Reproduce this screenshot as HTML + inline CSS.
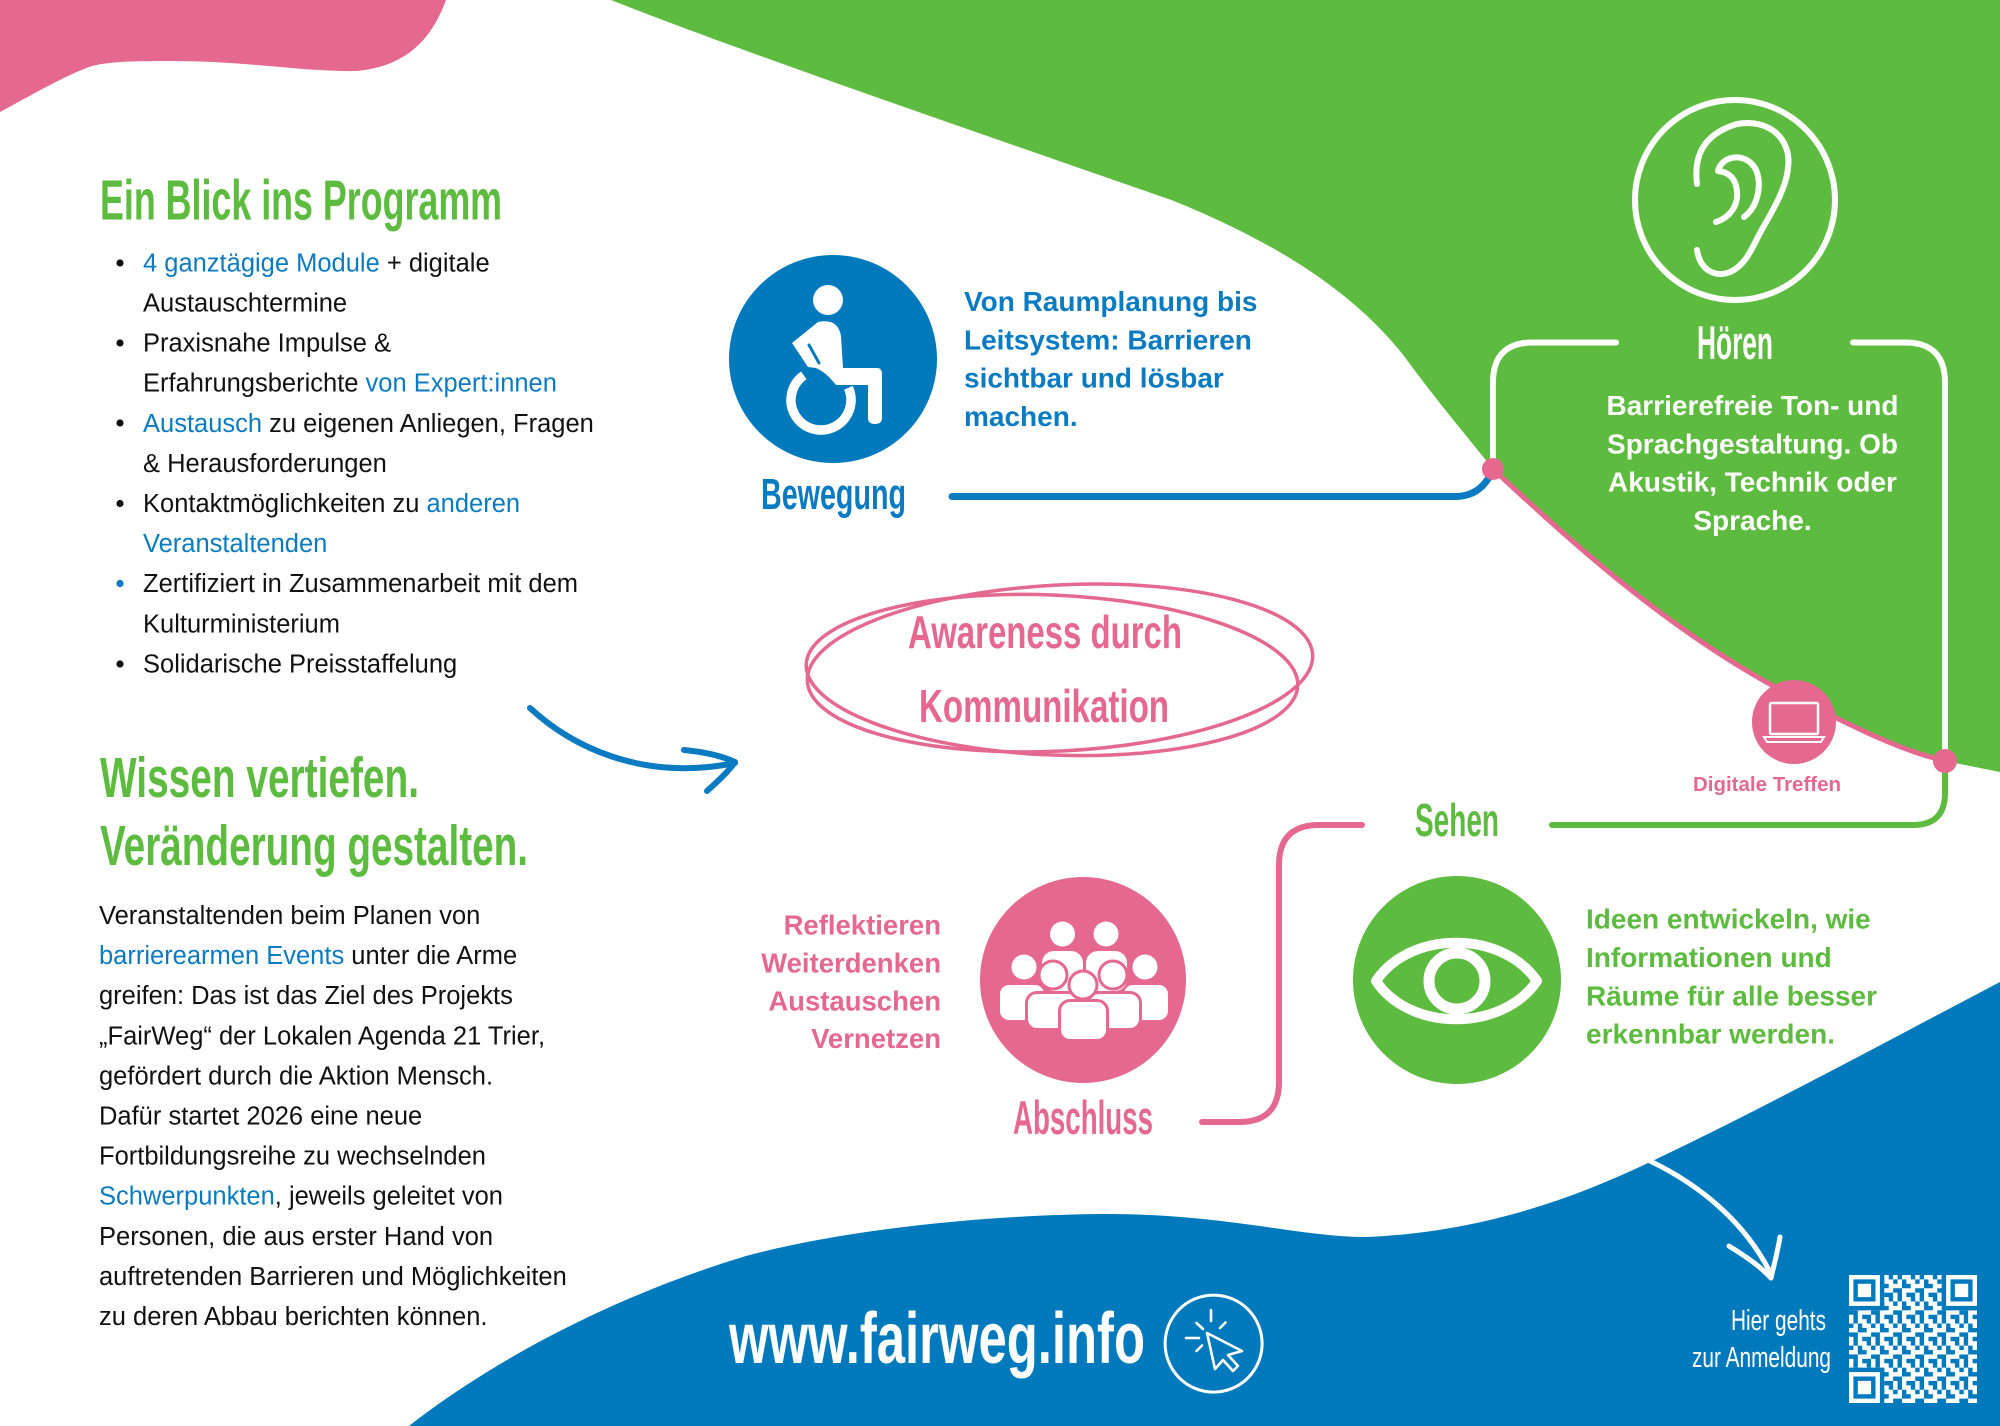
<!DOCTYPE html>
<html>
<head>
<meta charset="utf-8">
<style>
  html,body{margin:0;padding:0;background:#fff;}
  svg{display:block;}
  text{font-family:"Liberation Sans",Arial,sans-serif;}
</style>
</head>
<body>
<svg xmlns="http://www.w3.org/2000/svg" width="2000" height="1426" viewBox="0 0 2000 1426">
  <defs>
    <pattern id="qrp" patternUnits="userSpaceOnUse" x="1849" y="1275" width="22.07" height="22.07">
      <rect x="0" y="0" width="4.41" height="4.41" fill="#fff"/>
      <rect x="8.83" y="0" width="8.83" height="4.41" fill="#fff"/>
      <rect x="4.41" y="4.41" width="4.41" height="4.41" fill="#fff"/>
      <rect x="13.24" y="4.41" width="8.83" height="4.41" fill="#fff"/>
      <rect x="0" y="8.83" width="8.83" height="4.41" fill="#fff"/>
      <rect x="17.66" y="8.83" width="4.41" height="4.41" fill="#fff"/>
      <rect x="8.83" y="13.24" width="13.24" height="4.41" fill="#fff"/>
      <rect x="0" y="17.66" width="4.41" height="4.41" fill="#fff"/>
      <rect x="8.83" y="17.66" width="4.41" height="4.41" fill="#fff"/>
    </pattern>
  </defs>

  <rect width="2000" height="1426" fill="#fff"/>

  <!-- pink blob top-left -->
  <path d="M0,0 H446 C432,38 408,66 357,71 C300,72 250,61 170,61 C125,61 105,62 89,67 C60,78 30,96 0,112 Z" fill="#E4688F"/>

  <!-- green shape top-right -->
  <path d="M611,0 C750,55 1000,140 1174,201 C1290,248 1360,300 1404,356 C1440,405 1470,440 1493,469 C1580,550 1680,640 1800,700 C1860,730 1900,750 1945,761 L2000,772 V0 Z" fill="#5DBB3F"/>

  <!-- blue bottom shape -->
  <path d="M409,1426 C480,1370 600,1300 746,1256 C850,1228 1000,1214 1112,1214 C1230,1215 1300,1237 1367,1237 C1480,1232 1570,1200 1648,1163 C1760,1110 1880,1045 2000,982 V1426 Z" fill="#007ABC"/>

  <!-- ===== LEFT COLUMN ===== -->
  <text x="100" y="219.6" font-size="57" font-weight="bold" fill="#5DBB3F" textLength="402" lengthAdjust="spacingAndGlyphs">Ein Blick ins Programm</text>

  <g font-size="25.5" fill="#111">
    <circle cx="120" cy="263" r="3.6" fill="#111"/>
    <text x="143" y="271.4"><tspan fill="#0B7BC1">4 ganztägige Module</tspan> + digitale</text>
    <text x="143" y="311.5">Austauschtermine</text>
    <circle cx="120" cy="343" r="3.6" fill="#111"/>
    <text x="143" y="351.6">Praxisnahe Impulse &amp;</text>
    <text x="143" y="391.7">Erfahrungsberichte <tspan fill="#0B7BC1">von Expert:innen</tspan></text>
    <circle cx="120" cy="423" r="3.6" fill="#111"/>
    <text x="143" y="431.8"><tspan fill="#0B7BC1">Austausch</tspan> zu eigenen Anliegen, Fragen</text>
    <text x="143" y="471.9">&amp; Herausforderungen</text>
    <circle cx="120" cy="503.5" r="3.6" fill="#111"/>
    <text x="143" y="512">Kontaktmöglichkeiten zu <tspan fill="#0B7BC1">anderen</tspan></text>
    <text x="143" y="552.1" fill="#0B7BC1">Veranstaltenden</text>
    <circle cx="120" cy="583.5" r="3.6" fill="#0B7BC1"/>
    <text x="143" y="592.2">Zertifiziert in Zusammenarbeit mit dem</text>
    <text x="143" y="632.3">Kulturministerium</text>
    <circle cx="120" cy="664" r="3.6" fill="#111"/>
    <text x="143" y="672.4">Solidarische Preisstaffelung</text>
  </g>

  <text x="100" y="797" font-size="57" font-weight="bold" fill="#5DBB3F" textLength="319" lengthAdjust="spacingAndGlyphs">Wissen vertiefen.</text>
  <text x="100" y="865" font-size="57" font-weight="bold" fill="#5DBB3F" textLength="428" lengthAdjust="spacingAndGlyphs">Veränderung gestalten.</text>

  <g font-size="25.5" fill="#111">
    <text x="99" y="924">Veranstaltenden beim Planen von</text>
    <text x="99" y="964.1"><tspan fill="#0B7BC1">barrierearmen Events</tspan> unter die Arme</text>
    <text x="99" y="1004.2">greifen: Das ist das Ziel des Projekts</text>
    <text x="99" y="1044.3">„FairWeg“ der Lokalen Agenda 21 Trier,</text>
    <text x="99" y="1084.4">gefördert durch die Aktion Mensch.</text>
    <text x="99" y="1124.5">Dafür startet 2026 eine neue</text>
    <text x="99" y="1164.6">Fortbildungsreihe zu wechselnden</text>
    <text x="99" y="1204.7"><tspan fill="#0B7BC1">Schwerpunkten</tspan>, jeweils geleitet von</text>
    <text x="99" y="1244.8">Personen, die aus erster Hand von</text>
    <text x="99" y="1284.9">auftretenden Barrieren und Möglichkeiten</text>
    <text x="99" y="1325">zu deren Abbau berichten können.</text>
  </g>

  <!-- blue curved arrow -->
  <g fill="none" stroke="#0A7BC0" stroke-width="6" stroke-linecap="round" stroke-linejoin="round">
    <path d="M530,708 C570,745 640,782 735,763"/>
    <path d="M684,750 C705,752 722,756 735,762 C728,772 717,782 707,791"/>
  </g>

  <!-- ===== CONNECTOR LINES ===== -->
  <g fill="none" stroke-linecap="round">
    <path d="M952,496.5 H1455 Q1482,496.5 1493,469" stroke="#0A7BC0" stroke-width="7"/>
    <path d="M1616,342.5 H1533 Q1493,342.5 1493,382.5 V469" stroke="#fff" stroke-width="6"/>
    <path d="M1853,342.5 H1905 Q1945,342.5 1945,382.5 V761" stroke="#fff" stroke-width="6"/>
    <path d="M1945,761 V793 Q1945,825 1913,825 H1552" stroke="#5DBB3F" stroke-width="6"/>
    <path d="M1493,469 C1580,550 1680,640 1800,700 C1860,730 1900,750 1945,761" stroke="#E4688F" stroke-width="5"/>
    <path d="M1202,1122 H1239 Q1279,1122 1279,1082 V865 Q1279,825 1319,825 H1362" stroke="#E4688F" stroke-width="6"/>
  </g>
  <circle cx="1493" cy="469" r="11" fill="#E4688F"/>
  <circle cx="1945" cy="761" r="12" fill="#E4688F"/>

  <!-- ===== BEWEGUNG ===== -->
  <circle cx="833" cy="359" r="104" fill="#007ABC"/>
  <circle cx="828" cy="300" r="15" fill="#fff"/>
  <path d="M792,343 L818,322 Q838,318 841,336 L843,368 L877,368 Q882,368 882,374 L882,418 Q882,424 875,424 Q868,424 868,418 L868,385 L836,385 Q826,372 816,368 L808,367 Z" fill="#fff"/>
  <line x1="809" y1="345" x2="819" y2="363" stroke="#007ABC" stroke-width="3" stroke-linecap="round"/>
  <path d="M848.4,387.8 A30,30 0 1 1 803.8,375.4" fill="none" stroke="#fff" stroke-width="9.5"/>

  <text x="761" y="509" font-size="44" font-weight="bold" fill="#0A7BC0" textLength="145" lengthAdjust="spacingAndGlyphs">Bewegung</text>

  <g font-size="28" font-weight="bold" fill="#0A7BC0">
    <text x="964" y="311">Von Raumplanung bis</text>
    <text x="964" y="349.3">Leitsystem: Barrieren</text>
    <text x="964" y="387.6">sichtbar und lösbar</text>
    <text x="964" y="425.9">machen.</text>
  </g>

  <!-- ===== HÖREN ===== -->
  <circle cx="1735" cy="200" r="100" fill="none" stroke="#fff" stroke-width="6"/>
  <g fill="none" stroke="#fff" stroke-width="6" stroke-linecap="round" stroke-linejoin="round">
    <path d="M1697,184 C1694,160 1700,135 1737,124 C1770,118 1792,140 1788,168 C1786,190 1770,215 1760,233 C1752,248 1746,265 1730,272 C1715,278 1700,270 1697,250"/>
    <path d="M1744,217 C1760,205 1762,180 1755,168 C1745,152 1722,155 1718,171 C1730,172 1738,180 1737,198 C1735,212 1725,219 1716,222"/>
  </g>
  <text x="1697" y="359" font-size="47" font-weight="bold" fill="#fff" textLength="76" lengthAdjust="spacingAndGlyphs">Hören</text>
  <g font-size="28" font-weight="bold" fill="#fff" text-anchor="middle">
    <text x="1752.5" y="415">Barrierefreie Ton- und</text>
    <text x="1752.5" y="453.5">Sprachgestaltung. Ob</text>
    <text x="1752.5" y="491.5">Akustik, Technik oder</text>
    <text x="1752.5" y="530">Sprache.</text>
  </g>

  <!-- laptop node -->
  <circle cx="1794" cy="722" r="42" fill="#E4688F"/>
  <rect x="1770" y="703" width="48" height="31" rx="1.5" fill="none" stroke="#fff" stroke-width="2.5"/>
  <path d="M1764,737 H1824 L1821,742 H1767 Z" fill="none" stroke="#fff" stroke-width="2"/>
  <text x="1767" y="791" font-size="20.5" font-weight="bold" fill="#E4688F" text-anchor="middle">Digitale Treffen</text>

  <!-- ===== AWARENESS ===== -->
  <g fill="none" stroke="#E4688F" stroke-width="3.5">
    <ellipse cx="1060" cy="668" rx="253" ry="83" transform="rotate(-3 1060 668)"/>
    <ellipse cx="1052" cy="675" rx="246" ry="80" transform="rotate(2.5 1052 675)"/>
  </g>
  <text x="908" y="648" font-size="46" font-weight="bold" fill="#E4688F" textLength="274" lengthAdjust="spacingAndGlyphs">Awareness durch</text>
  <text x="919" y="722" font-size="46" font-weight="bold" fill="#E4688F" textLength="250" lengthAdjust="spacingAndGlyphs">Kommunikation</text>

  <!-- ===== SEHEN ===== -->
  <text x="1415" y="836" font-size="46" font-weight="bold" fill="#5DBB3F" textLength="84" lengthAdjust="spacingAndGlyphs">Sehen</text>
  <circle cx="1457" cy="980" r="104" fill="#5DBB3F"/>
  <path d="M1376,981 C1410,930 1502,930 1537,981 C1502,1032 1410,1032 1376,981 Z" fill="none" stroke="#fff" stroke-width="10" stroke-linejoin="round"/>
  <circle cx="1457" cy="981" r="28" fill="none" stroke="#fff" stroke-width="11"/>
  <g font-size="28" font-weight="bold" fill="#5DBB3F">
    <text x="1586" y="928.5">Ideen entwickeln, wie</text>
    <text x="1586" y="967">Informationen und</text>
    <text x="1586" y="1005.3">Räume für alle besser</text>
    <text x="1586" y="1043.6">erkennbar werden.</text>
  </g>

  <!-- ===== ABSCHLUSS ===== -->
  <g font-size="27.5" font-weight="bold" fill="#E4688F" text-anchor="end">
    <text x="941" y="934.5">Reflektieren</text>
    <text x="941" y="972.4">Weiterdenken</text>
    <text x="941" y="1010.3">Austauschen</text>
    <text x="941" y="1048.2">Vernetzen</text>
  </g>
  <circle cx="1083" cy="980" r="103" fill="#E4688F"/>
  <g fill="#fff" stroke="#E4688F" stroke-width="6" paint-order="stroke">
    <!-- back row -->
    <rect x="1042" y="951" width="41" height="40" rx="12" stroke="none"/>
    <rect x="1086" y="951" width="41" height="40" rx="12" stroke="none"/>
    <circle cx="1062.5" cy="934" r="12.5" stroke="none"/>
    <circle cx="1106" cy="934" r="12.5" stroke="none"/>
    <!-- outer -->
    <rect x="1000" y="985" width="44" height="35" rx="9" stroke="none"/>
    <rect x="1124" y="985" width="44" height="35" rx="9" stroke="none"/>
    <circle cx="1024" cy="967" r="12.5"/>
    <circle cx="1145" cy="967" r="12.5"/>
    <!-- middle -->
    <rect x="1028" y="994" width="49" height="34" rx="9"/>
    <rect x="1090" y="994" width="49" height="34" rx="9"/>
    <circle cx="1053" cy="975" r="12.5"/>
    <circle cx="1113" cy="975" r="12.5"/>
    <!-- center -->
    <rect x="1061" y="1002" width="45" height="37" rx="9"/>
    <circle cx="1083" cy="985" r="12.5"/>
  </g>
  <text x="1013" y="1134" font-size="47" font-weight="bold" fill="#E4688F" textLength="140" lengthAdjust="spacingAndGlyphs">Abschluss</text>

  <!-- ===== FOOTER ===== -->
  <text x="729" y="1363" font-size="72" font-weight="bold" fill="#fff" textLength="416" lengthAdjust="spacingAndGlyphs">www.fairweg.info</text>
  <circle cx="1213.6" cy="1343.6" r="48.5" fill="none" stroke="#fff" stroke-width="3"/>
  <g fill="none" stroke="#fff" stroke-width="2.6" stroke-linecap="round" stroke-linejoin="round">
    <path d="M1207,1333 L1242,1351 L1228,1355 L1238,1366 L1233,1371 L1223,1360 L1215,1369 Z"/>
    <line x1="1211" y1="1310" x2="1211" y2="1321"/>
    <line x1="1186" y1="1338" x2="1199" y2="1338"/>
    <line x1="1196.5" y1="1323" x2="1203" y2="1329"/>
    <line x1="1220" y1="1328" x2="1225.5" y2="1322.5"/>
    <line x1="1196.5" y1="1351" x2="1202" y2="1345.5"/>
  </g>

  <!-- white curved arrow -->
  <g fill="none" stroke="#fff" stroke-width="5" stroke-linecap="round" stroke-linejoin="round">
    <path d="M1650,1161 C1700,1185 1745,1222 1771,1274"/>
    <path d="M1729,1246 C1745,1256 1760,1266 1771,1278 C1774,1265 1778,1250 1780,1237"/>
  </g>

  <text x="1731" y="1330" font-size="29" fill="#fff" textLength="95" lengthAdjust="spacingAndGlyphs">Hier gehts</text>
  <text x="1692" y="1367" font-size="29" fill="#fff" textLength="139" lengthAdjust="spacingAndGlyphs">zur Anmeldung</text>

  <!-- QR code -->
  <rect x="1849" y="1275" width="128" height="128" fill="url(#qrp)"/>
  <g fill="#007ABC">
    <rect x="1849" y="1275" width="35.3" height="35.3"/>
    <rect x="1941.7" y="1275" width="35.3" height="35.3"/>
    <rect x="1849" y="1367.7" width="35.3" height="35.3"/>
  </g>
  <g>
    <rect x="1849" y="1275" width="30.9" height="30.9" fill="#fff"/>
    <rect x="1853.4" y="1279.4" width="22.1" height="22.1" fill="#007ABC"/>
    <rect x="1857.8" y="1283.8" width="13.3" height="13.3" fill="#fff"/>

    <rect x="1946.1" y="1275" width="30.9" height="30.9" fill="#fff"/>
    <rect x="1950.5" y="1279.4" width="22.1" height="22.1" fill="#007ABC"/>
    <rect x="1954.9" y="1283.8" width="13.3" height="13.3" fill="#fff"/>

    <rect x="1849" y="1372.1" width="30.9" height="30.9" fill="#fff"/>
    <rect x="1853.4" y="1376.5" width="22.1" height="22.1" fill="#007ABC"/>
    <rect x="1857.8" y="1380.9" width="13.3" height="13.3" fill="#fff"/>
  </g>
</svg>
</body>
</html>
